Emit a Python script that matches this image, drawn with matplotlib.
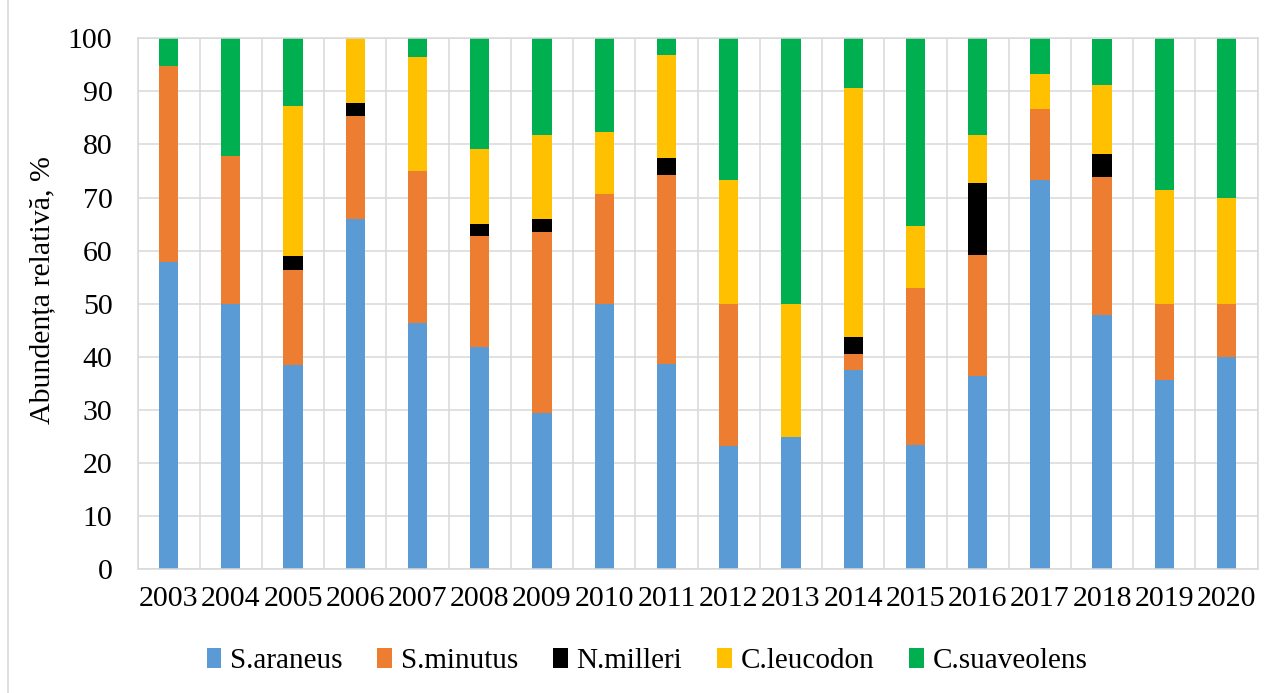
import matplotlib
matplotlib.use("Agg")
import matplotlib.pyplot as plt
from matplotlib.lines import Line2D
import numpy as np

years = ["2003", "2004", "2005", "2006", "2007", "2008", "2009", "2010", "2011",
         "2012", "2013", "2014", "2015", "2016", "2017", "2018", "2019", "2020"]

species = ["S.araneus", "S.minutus", "N.milleri", "C.leucodon", "C.suaveolens"]

s_araneus = [57.9, 50.0, 38.5, 65.9, 46.4, 41.9, 29.5, 50.0, 38.7,
             23.3, 25.0, 37.5, 23.5, 36.4, 73.3, 47.8, 35.7, 40.0]
s_minutus = [36.8, 27.8, 17.9, 19.5, 28.6, 20.9, 34.1, 20.6, 35.5,
             26.7, 0.0, 3.1, 29.4, 22.7, 13.3, 26.1, 14.3, 10.0]
n_milleri = [0.0, 0.0, 2.6, 2.4, 0.0, 2.3, 2.3, 0.0, 3.2,
             0.0, 0.0, 3.1, 0.0, 13.6, 0.0, 4.3, 0.0, 0.0]
c_leucodon = [0.0, 0.0, 28.2, 12.2, 21.4, 14.0, 15.9, 11.8, 19.4,
              23.3, 25.0, 46.9, 11.8, 9.1, 6.7, 13.0, 21.4, 20.0]
c_suaveolens = [5.3, 22.2, 12.8, 0.0, 3.6, 20.9, 18.2, 17.6, 3.2,
                26.7, 50.0, 9.4, 35.3, 18.2, 6.7, 8.7, 28.6, 30.0]

yticks = [0, 10, 20, 30, 40, 50, 60, 70, 80, 90, 100]
ylabel = "Abundența relativă, %"

series = [s_araneus, s_minutus, n_milleri, c_leucodon, c_suaveolens]
colors = ["#5B9BD5", "#ED7D31", "#000000", "#FFC000", "#00B050"]

plt.rcParams['font.family'] = ['Liberation Serif', 'DejaVu Serif']

fig = plt.figure(figsize=(12.7, 6.93), dpi=100)
W, H = 1270, 693
ax = fig.add_axes([137.5 / W, 1 - 569.3 / H, (1257.7 - 137.5) / W, (569.3 - 38.3) / H])

x = np.arange(len(years))
bottom = np.zeros(len(years))
for name, vals, col in zip(species, series, colors):
    v = np.array(vals)
    ax.bar(x, v, width=0.31, bottom=bottom, color=col, linewidth=0, label=name, zorder=2)
    bottom += v

gridc = "#d9d9d9"
ax.set_xlim(-0.5, len(years) - 0.5)
ax.set_ylim(0, 100)
ax.set_yticks(yticks)
ax.set_xticks(x)
ax.set_xticklabels(years)
ax.set_xticks(np.arange(-0.5, len(years), 1.0), minor=True)
ax.tick_params(axis='both', which='both', length=0, labelsize=21.5, colors='black')
ax.tick_params(axis='y', pad=18)
ax.tick_params(axis='x', pad=12)
ax.set_axisbelow(True)
ax.grid(axis='y', which='major', color=gridc, linewidth=1.1, zorder=0)
ax.grid(axis='x', which='minor', color=gridc, linewidth=1.1, zorder=0)
ax.grid(axis='x', which='major', visible=False)
for sp in ax.spines.values():
    sp.set_color(gridc)
    sp.set_linewidth(1.1)

fig.text(42 / W, 1 - 290 / H, ylabel, rotation=90, ha='center', va='center', fontsize=21.5)

handles, labels = ax.get_legend_handles_labels()
leg = fig.legend(handles, labels, loc='center', bbox_to_anchor=(647 / W, 1 - 661 / H),
                 ncol=5, frameon=False, fontsize=21, handlelength=0.5, handleheight=0.7,
                 handletextpad=0.3, columnspacing=1.2, borderaxespad=0)

fig.add_artist(Line2D([8 / W, 8 / W], [0, 1], transform=fig.transFigure, color=gridc, linewidth=1.2))

fig.savefig("out.png", dpi=100)
